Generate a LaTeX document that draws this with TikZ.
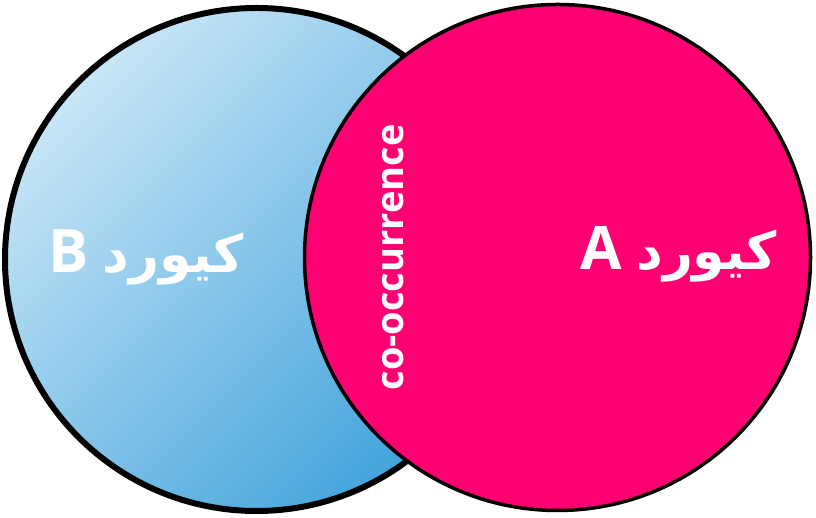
\documentclass[tikz,border=0pt]{standalone}
\usepackage{fontspec}
\setmainfont{Open Sans}
\newfontfamily\persianfont[Script=Arabic]{DejaVu Sans}
\TeXXeTstate=1
\usetikzlibrary{positioning}
\definecolor{setpink}{RGB}{255,0,115}
\definecolor{lightblue}{RGB}{200,230,247}
\definecolor{darkblue}{RGB}{66,163,219}

\begin{document}
\begin{tikzpicture}[x=1pt, y=1pt]
% Definition of sets:
\tikzset{%
  setB/.style     = {circle, draw=black, line width=6pt, minimum size=503pt, inner sep=0pt,
                     top color=lightblue, bottom color=darkblue, shading angle=45}, % left set
  setA/.style     = {circle, draw=black, line width=3.5pt, minimum size=506pt, inner sep=0pt,
                     fill=setpink}, % right set
  setname/.style  = {text=white, anchor=base, inner sep=0pt, font=\bfseries\fontsize{60}{60}\selectfont},
  overlap/.style  = {text=white, anchor=base, inner sep=0pt, rotate=90, font=\bfseries\fontsize{38}{38}\selectfont}
}
\newcommand{\keyname}[1]{{\persianfont\fontsize{52}{52}\selectfont\beginR کیورد\hspace{14pt}{\normalfont\bfseries\fontsize{60}{60}\selectfont #1}\endR}}
\useasboundingbox (0,0) rectangle (816,518);
\node [setB] (B) at (256.5,258.5) {};
\node [setA] (A) at (557.5,260.5) {};
\node [setname] (nameB) at (146,245) {\keyname{B}};
\node [setname] (nameA) at (679,248) {\keyname{A}};
\node [overlap] (cooc) at (403,260.5) {co-occurrence};
\end{tikzpicture}
\end{document}
